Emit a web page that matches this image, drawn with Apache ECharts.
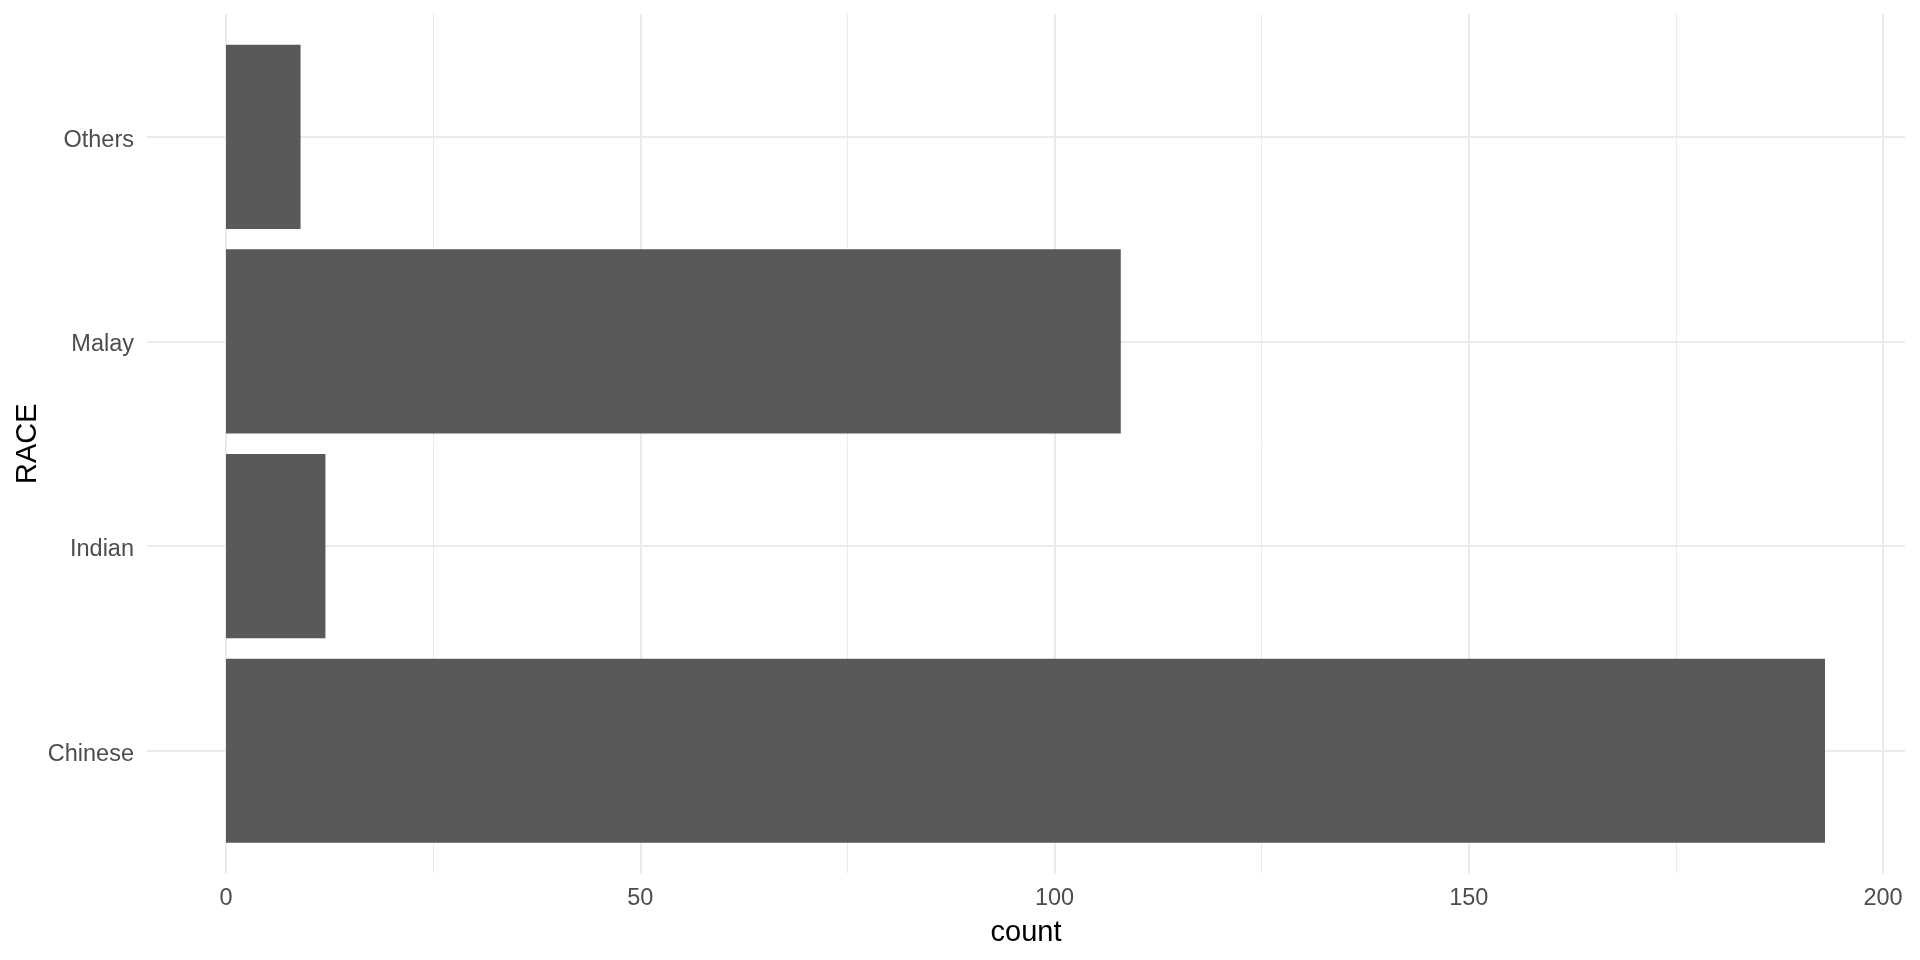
<!DOCTYPE html>
<html>
<head>
<meta charset="utf-8">
<style>
  html, body { margin: 0; padding: 0; background: #ffffff; }
  #chart { width: 1920px; height: 960px; }
</style>
<script src="https://cdn.jsdelivr.net/npm/echarts@6/dist/echarts.min.js"></script>
</head>
<body>
<div id="chart"></div>
<script>
// ---- data ----
const categories = ['Chinese', 'Indian', 'Malay', 'Others'];
const counts = [193, 12, 108, 9];
const xMajorInterval = 50;
const xMinorInterval = 25;
const xMin = 0;
const xMax = 200;
const xTitle = 'count';
const yTitle = 'RACE';

// ---- layout (ggplot-like panel) ----
const W = 1920, H = 960;
const panel = { left: 147, right: 1905, top: 14, bottom: 873.5 };
const xZeroPx = 226, xMaxPx = 1883;
const n = categories.length;
const band = (panel.bottom - panel.top) / (n + 0.2); // 0.6 expansion each side
const font = "'Liberation Sans', Arial, sans-serif";
const gridColor = '#EBEBEB';

const chart = echarts.init(document.getElementById('chart'), null, { renderer: 'canvas' });

const option = {
  backgroundColor: '#ffffff',
  animation: false,
  grid: [
    { // 0: full panel (horizontal grid lines, y labels, titles)
      left: panel.left, right: W - panel.right, top: panel.top, bottom: H - panel.bottom,
      containLabel: false
    },
    { // 1: x scale for vertical grid lines and x labels
      left: xZeroPx, right: W - xMaxPx, top: panel.top, bottom: H - panel.bottom,
      containLabel: false
    },
    { // 2: bars
      left: xZeroPx, right: W - xMaxPx,
      top: panel.top + 0.1 * band, bottom: H - panel.bottom + 0.1 * band,
      containLabel: false
    }
  ],
  xAxis: [
    {
      gridIndex: 0, type: 'value', min: 0, max: 1,
      axisLine: { show: false }, axisTick: { show: false },
      axisLabel: { show: false }, splitLine: { show: false },
      name: xTitle, nameLocation: 'middle', nameGap: 45, nameMoveOverlap: false,
      nameTextStyle: { color: '#000000', fontSize: 29, fontFamily: font }
    },
    {
      gridIndex: 1, type: 'value', min: xMin, max: xMax, interval: xMajorInterval,
      axisLine: { show: false }, axisTick: { show: false },
      axisLabel: { color: '#4D4D4D', fontSize: 23.5, fontFamily: font, margin: 13.5 },
      splitLine: { show: true, lineStyle: { color: gridColor, width: 2 } },
      z: 1
    },
    {
      gridIndex: 1, type: 'value', min: xMin, max: xMax, interval: xMinorInterval,
      axisLine: { show: false }, axisTick: { show: false },
      axisLabel: { show: false },
      splitLine: { show: true, lineStyle: { color: gridColor, width: 1 } },
      z: 0
    },
    {
      gridIndex: 2, type: 'value', min: xMin, max: xMax,
      show: false
    }
  ],
  yAxis: [
    {
      gridIndex: 0, type: 'value', min: 0.4, max: n + 0.6,
      axisLine: { show: false }, axisTick: { show: false },
      axisLabel: {
        margin: 13,
        showMinLabel: false, showMaxLabel: false,
        formatter: function (v) {
          const i = Math.round(v);
          return (Math.abs(v - i) < 1e-6 && i >= 1 && i <= n) ? '{c|' + categories[i - 1] + '}' : '';
        },
        rich: {
          c: { color: '#4D4D4D', fontSize: 23.5, fontFamily: font, padding: [7, 0, 0, 0] }
        }
      },
      splitLine: { show: true, showMinLine: false, showMaxLine: false,
                   lineStyle: { color: gridColor, width: 2 } },
      name: yTitle, nameLocation: 'middle', nameGap: 105, nameRotate: 90, nameMoveOverlap: false,
      nameTextStyle: { color: '#000000', fontSize: 29, fontFamily: font }
    },
    {
      gridIndex: 1, type: 'value', min: 0, max: 1, show: false
    },
    {
      gridIndex: 2, type: 'category', data: categories, show: false
    }
  ],
  series: [
    {
      type: 'bar',
      xAxisIndex: 3, yAxisIndex: 2,
      data: counts,
      barCategoryGap: '10%',
      itemStyle: { color: '#595959' },
      silent: true
    }
  ]
};

chart.setOption(option);
</script>
</body>
</html>
